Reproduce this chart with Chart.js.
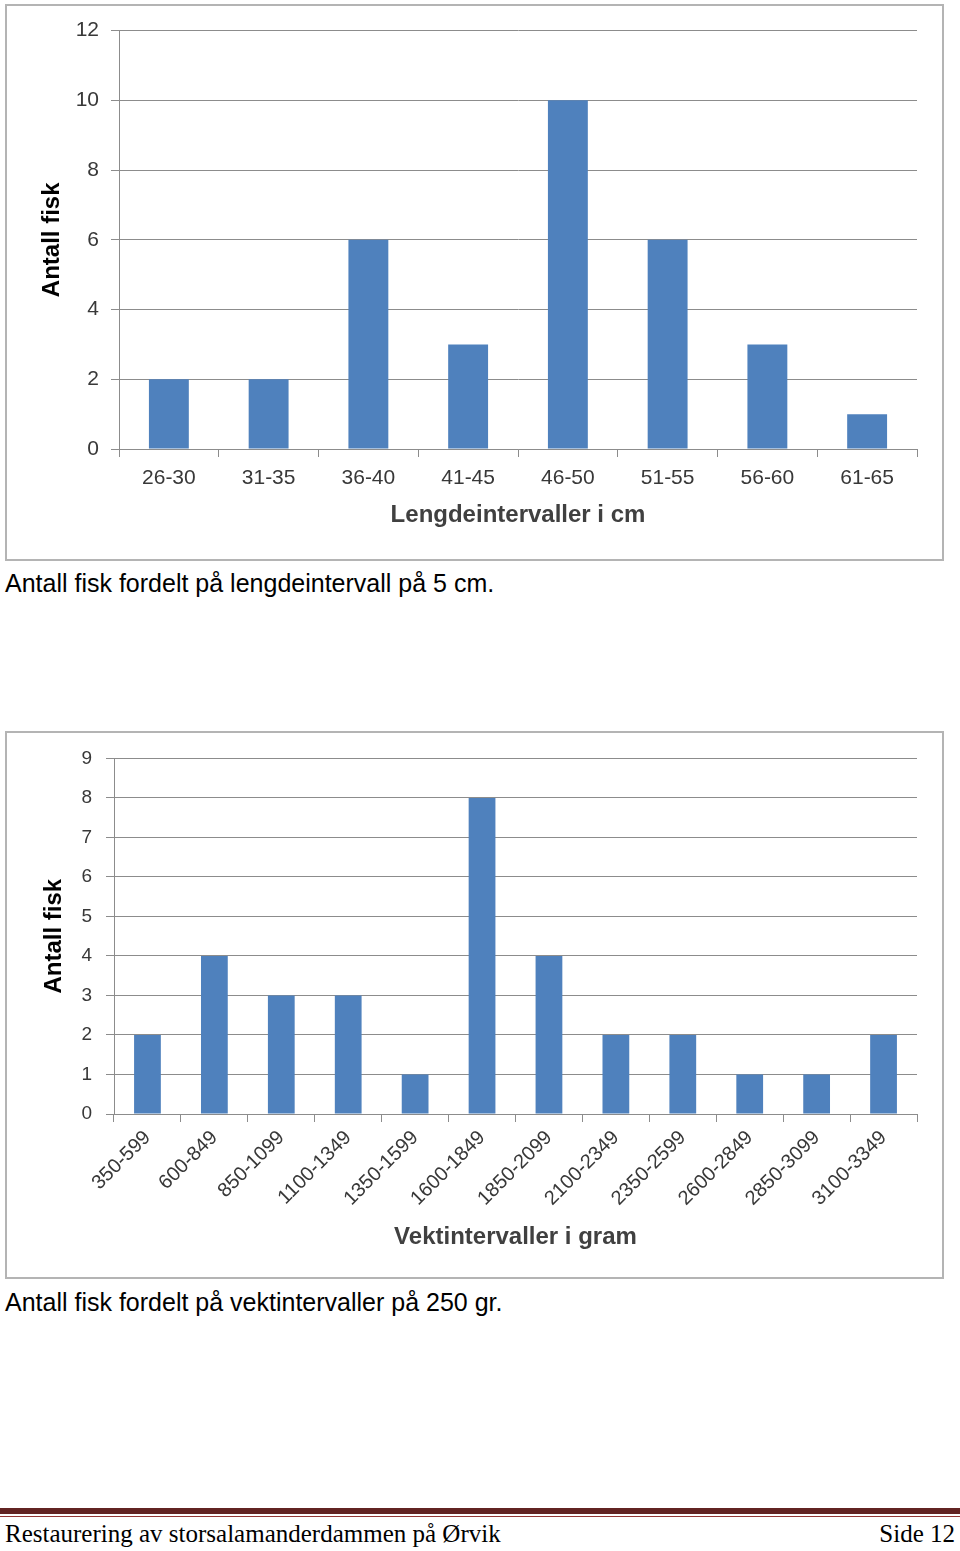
<!DOCTYPE html>
<html>
<head>
<meta charset="utf-8">
<script src="https://cdn.jsdelivr.net/npm/chart.js@4/dist/chart.umd.min.js"></script>
<style>
  body { margin: 0; width: 960px; height: 1551px; background: #fff; position: relative; overflow: hidden; }
  .ramme { position: absolute; left: 5px; width: 935px; border: 2px solid #b4b4b4; background: #fff; }
  .ramme canvas { display: block; }
  .tekst { position: absolute; left: 5px; font-family: "Liberation Sans", Arial, sans-serif; font-size: 25px; line-height: 28px; color: #000; }
  .bunn { position: absolute; font-family: "Liberation Serif", serif; font-size: 25px; line-height: 28px; color: #000; top: 1520px; }
</style>
</head>
<body>

<div class="ramme" style="top:4px; height:553px;"><canvas id="lengde"></canvas></div>
<div class="tekst" style="top:569px;">Antall fisk fordelt på lengdeintervall på 5 cm.</div>

<div class="ramme" style="top:731px; height:544px;"><canvas id="vekt"></canvas></div>
<div class="tekst" style="top:1288px;">Antall fisk fordelt på vektintervaller på 250 gr.</div>

<div style="position:absolute; left:0; top:1508px; width:960px; height:6px; background:#622423;"></div>
<div style="position:absolute; left:0; top:1516px; width:960px; height:1px; background:#943634;"></div>
<div class="bunn" style="left:5px;">Restaurering av storsalamanderdammen på Ørvik</div>
<div class="bunn" style="right:5px;">Side 12</div>

<script>
// Lengde (cm)
const lengdeIntervaller = ['26-30', '31-35', '36-40', '41-45', '46-50', '51-55', '56-60', '61-65'];
const lengdeAntall = [2, 2, 6, 3, 10, 6, 3, 1];
const lengdeTicks = [0, 2, 4, 6, 8, 10, 12];

// Vekt (gram)
const vektIntervaller = ['350-599', '600-849', '850-1099', '1100-1349', '1350-1599', '1600-1849',
    '1850-2099', '2100-2349', '2350-2599', '2600-2849', '2850-3099', '3100-3349'];
const vektAntall = [2, 4, 3, 3, 1, 8, 4, 2, 2, 1, 1, 2];
const vektTicks = [0, 1, 2, 3, 4, 5, 6, 7, 8, 9];

const blaa = '#4f81bd';
const gridFarge = '#8c8c8c';
const skrift = "'Liberation Sans', Arial, sans-serif";

Chart.defaults.animation = false;
Chart.defaults.font.family = skrift;

function lagDiagram(id, bredde, hoyde, labels, data, ticks, oppsett) {
    const canvas = document.getElementById(id);
    canvas.width = bredde;
    canvas.height = hoyde;
    canvas.style.width = bredde + 'px';
    canvas.style.height = hoyde + 'px';

    return new Chart(canvas.getContext('2d'), {
        type: 'bar',
        data: {
            labels: labels,
            datasets: [{
                data: data,
                backgroundColor: blaa,
                borderWidth: 0,
                barPercentage: 0.4,
                categoryPercentage: 1,
            }],
        },
        options: {
            responsive: false,
            maintainAspectRatio: false,
            layout: { padding: { top: oppsett.top, right: 25, left: 0, bottom: 0 } },
            plugins: { legend: { display: false }, tooltip: { enabled: false } },
            scales: {
                x: {
                    grid: { offset: true, drawOnChartArea: false, drawTicks: true, tickLength: 8, color: gridFarge },
                    border: { color: gridFarge },
                    ticks: {
                        color: '#383838',
                        font: { size: oppsett.xFont },
                        padding: oppsett.xPad,
                        maxRotation: oppsett.rot,
                        minRotation: oppsett.rot,
                        autoSkip: false,
                    },
                    title: {
                        display: true,
                        text: oppsett.xTittel,
                        color: '#404040',
                        font: { size: 24, weight: 'bold' },
                        padding: { top: 0, bottom: oppsett.xTittelPad },
                    },
                    afterFit: s => { s.height = oppsett.xHoyde; },
                },
                y: {
                    min: 0,
                    max: ticks[ticks.length - 1],
                    afterBuildTicks: s => { s.ticks = ticks.map(v => ({ value: v })); },
                    grid: { color: gridFarge, tickLength: 8 },
                    border: { color: gridFarge },
                    ticks: { color: '#383838', font: { size: oppsett.yFont }, padding: oppsett.yPad },
                    title: {
                        display: true,
                        text: 'Antall fisk',
                        color: '#000',
                        font: { size: 24, weight: 'bold' },
                        padding: { top: oppsett.yTittelPad, bottom: 0 },
                    },
                    afterFit: s => { s.width = oppsett.yBredde; },
                },
            },
        },
    });
}

lagDiagram('lengde', 935, 553, lengdeIntervaller, lengdeAntall, lengdeTicks, {
    top: 23, xHoyde: 110, yBredde: 112, xFont: 21, yFont: 21, xPad: 9, yPad: 12,
    rot: 0, xTittel: 'Lengdeintervaller i cm', xTittelPad: 29, yTittelPad: 31,
});

lagDiagram('vekt', 935, 544, vektIntervaller, vektAntall, vektTicks, {
    top: 22, xHoyde: 163, yBredde: 107, xFont: 20, yFont: 19, xPad: 4, yPad: 14,
    rot: 45, xTittel: 'Vektintervaller i gram', xTittelPad: 25, yTittelPad: 33,
});
</script>
</body>
</html>
